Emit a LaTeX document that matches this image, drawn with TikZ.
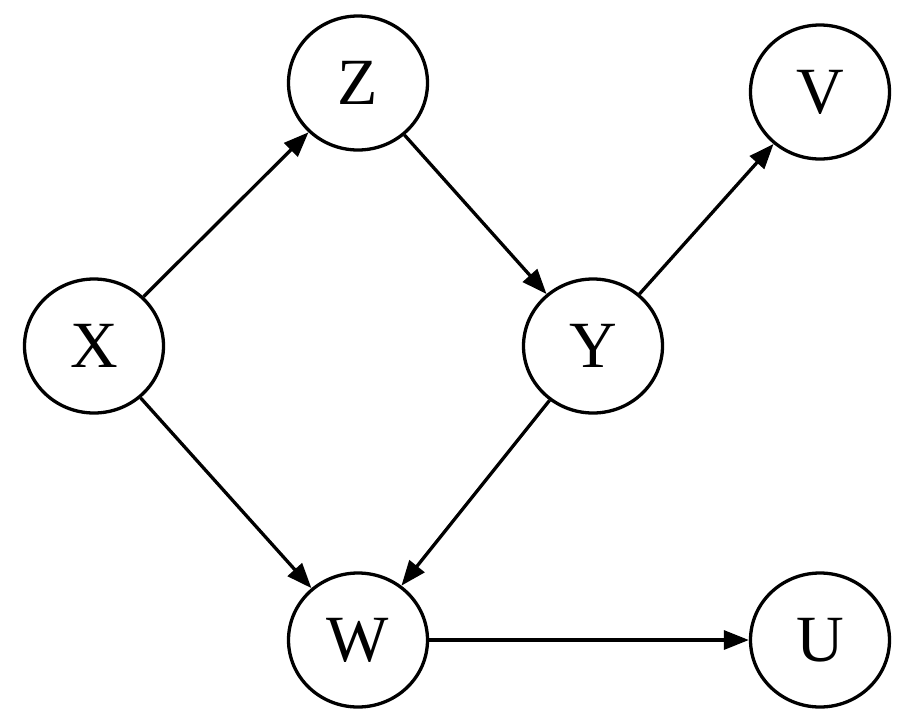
\documentclass[tikz,border=0pt]{standalone}
\usepackage{fontspec}
\setmainfont{Liberation Serif}
\usetikzlibrary{arrows.meta,shapes.geometric}
\begin{document}
\begin{tikzpicture}[x=1pt,y=-1pt,
  vnode/.style={draw=black,line width=3.3pt,ellipse,minimum width=139pt,minimum height=134pt,inner sep=0pt,font=\fontsize{66}{66}\selectfont},
  edge/.style={draw=black,line width=3.3pt,-{Triangle[length=25pt,width=19pt]}}]
\useasboundingbox (0,0) rectangle (920,724);
\node[vnode] (Z) at (358,83) {Z};
\node[vnode] (V) at (820,92) {V};
\node[vnode] (X) at (94,346) {X};
\node[vnode] (Y) at (593,346) {Y};
\node[vnode] (W) at (358,640) {W};
\node[vnode] (U) at (820,640) {U};
\draw[edge] (X) -- (Z);
\draw[edge] (Z) -- (Y);
\draw[edge] (Y) -- (V);
\draw[edge] (X) -- (W);
\draw[edge] (Y) -- (W);
\draw[edge] (W) -- (U);
\end{tikzpicture}
\end{document}
